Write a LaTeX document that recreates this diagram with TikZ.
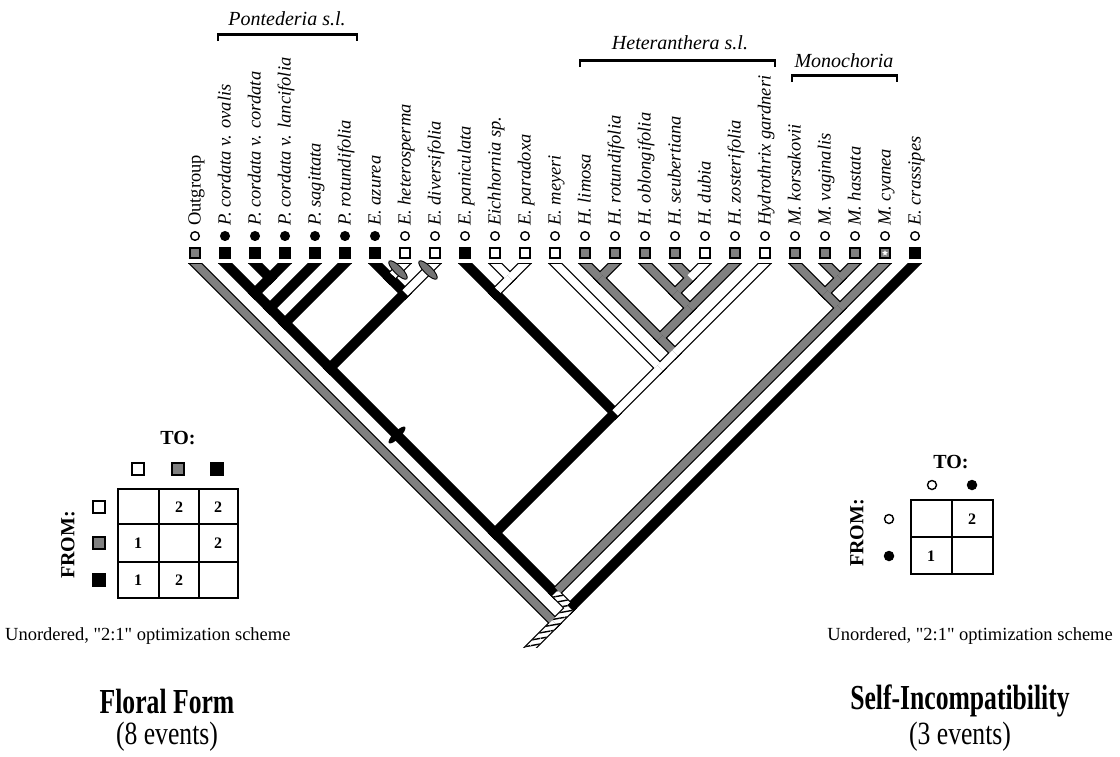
\documentclass[tikz,border=0pt]{standalone}
\usepackage{fontspec}
\setmainfont{Liberation Serif}
\newfontfamily\capfont{Liberation Serif}[Ligatures=TeXOff]
\usetikzlibrary{patterns.meta,shapes.geometric,calc}
\definecolor{stip}{gray}{0.5}
\begin{document}
\begin{tikzpicture}[x=1pt,y=-1pt,
 bord/.style={draw=black,line width=10.2pt,line cap=rect},
 fB/.style={draw=black,line width=7.6pt},
 fG/.style={draw=stip,line width=7.6pt},
 fW/.style={draw=white,line width=7.6pt},
 term/.style={shorten >=3.8pt},
 sqW/.style={rectangle,draw=black,line width=1.2pt,fill=white,minimum size=10pt,inner sep=0pt},
 sqG/.style={sqW,fill=stip},
 sqB/.style={sqW,fill=black},
 ciW/.style={circle,draw=black,line width=1.4pt,fill=white,minimum size=8.6pt,inner sep=0pt},
 ciB/.style={ciW,fill=black},
 lab/.style={rotate=90,anchor=base west,inner sep=0pt,font=\fontsize{18.5}{20}\selectfont\itshape},
 grp/.style={anchor=base,inner sep=0pt,font=\fontsize{20}{22}\selectfont\itshape},
 brk/.style={line width=2.5pt},
 hd/.style={font=\fontsize{20}{22}\selectfont\bfseries,inner sep=0pt},
 num/.style={font=\fontsize{16}{18}\selectfont\bfseries,inner sep=0pt},
 captxt/.style={font=\capfont\fontsize{18.5}{20}\selectfont,inner sep=0pt},
 ttl/.style={font=\fontsize{27}{30}\selectfont\bfseries,inner sep=0pt},
 subt/.style={font=\fontsize{27}{30}\selectfont,inner sep=0pt},
 lsq/.style={rectangle,draw=black,line width=1.2pt,minimum size=12pt,inner sep=0pt},
 evtmark/.style={ellipse,draw=black,line width=0.9pt,fill=black!55,minimum width=25pt,minimum height=8pt,inner sep=0pt,rotate=-45},
 tickmark/.style={ellipse,fill=black,minimum width=23pt,minimum height=7pt,inner sep=0pt,rotate=45},
 hatch/.style={pattern={Lines[angle=10,distance=5.5pt,line width=1.4pt]}}
]
\useasboundingbox (0,0) rectangle (1120,756);
\fill[white] (0,0) rectangle (1120,756);

% ---------- tips ----------
\foreach \i/\s/\c/\t in {
 1/G/W/\textup{Outgroup},
 2/B/B/P. cordata v. ovalis,
 3/B/B/P. cordata v. cordata,
 4/B/B/P. cordata v. lancifolia,
 5/B/B/P. sagittata,
 6/B/B/P. rotundifolia,
 7/B/B/E. azurea,
 8/W/W/E. heterosperma,
 9/W/W/E. diversifolia,
 10/B/W/E. paniculata,
 11/W/W/Eichhornia sp.,
 12/W/W/E. paradoxa,
 13/W/W/E. meyeri,
 14/G/W/H. limosa,
 15/G/W/H. rotundifolia,
 16/G/W/H. oblongifolia,
 17/G/W/H. seubertiana,
 18/W/W/H. dubia,
 19/G/W/H. zosterifolia,
 20/W/W/Hydrothrix gardneri,
 21/G/W/M. korsakovii,
 22/G/W/M. vaginalis,
 23/G/W/M. hastata,
 24/G/W/M. cyanea,
 25/B/W/E. crassipes}{
 \pgfmathsetmacro\xx{195+30*(\i-1)}
 \node[sq\s] (s\i) at (\xx,253) {};
 \node[ci\c] (c\i) at (\xx,236) {};
 \node[lab] (l\i) at (\xx+5.5,226) {\t};
}
\node[star,star points=5,star point ratio=2.2,fill=white,inner sep=0pt,minimum size=6pt] (cyst) at (s24) {};

% ---------- group brackets ----------
\node[grp] (gP) at (287,25) {Pontederia s.l.};
\draw[brk] (218,41) -- (218,34.5) -- (357,34.5) -- (357,41);
\node[grp] (gH) at (680,49) {Heteranthera s.l.};
\draw[brk] (580,67) -- (580,60.5) -- (775,60.5) -- (775,67);
\node[grp] (gM) at (844,67) {Monochoria};
\draw[brk] (792,82) -- (792,75.5) -- (897,75.5) -- (897,82);

% ---------- tree coordinates ----------
\coordinate (b1) at (185,253);  \coordinate (b2) at (215,253);
\coordinate (b3) at (245,253);  \coordinate (b4) at (295,253);
\coordinate (b5) at (325,253);  \coordinate (b6) at (355,253);
\coordinate (b7) at (365,253);  \coordinate (b8) at (415,253);
\coordinate (b9) at (445,253);  \coordinate (b10) at (455,253);
\coordinate (b11) at (485,253); \coordinate (b12) at (535,253);
\coordinate (b13) at (545,253); \coordinate (b14) at (575,253);
\coordinate (b15) at (625,253); \coordinate (b16) at (635,253);
\coordinate (b17) at (665,253); \coordinate (b18) at (715,253);
\coordinate (b19) at (745,253); \coordinate (b20) at (775,253);
\coordinate (b21) at (785,253); \coordinate (b22) at (815,253);
\coordinate (b23) at (865,253); \coordinate (b24) at (895,253);
\coordinate (b25) at (925,253);
\coordinate (n34) at (270,278);
\coordinate (n24) at (255,293);
\coordinate (n25) at (270,308);
\coordinate (n26) at (285,323);
\coordinate (n78) at (390,278);
\coordinate (n79) at (405,293);
\coordinate (n29) at (330,368);
\coordinate (n1112) at (510,278);
\coordinate (n1012) at (495,293);
\coordinate (n1415) at (600,278);
\coordinate (n1718) at (690,278);
\coordinate (n1618) at (675,293);
\coordinate (n1619) at (690,308);
\coordinate (n1419) at (660,338);
\coordinate (n1420) at (675,353);
\coordinate (n1320) at (660,368);
\coordinate (n1020) at (615,413);
\coordinate (n220) at (495,533);
\coordinate (n2223) at (840,278);
\coordinate (n2123) at (825,293);
\coordinate (n2124) at (840,308);
\coordinate (n224) at (555,593);
\coordinate (n225) at (570,608);
\coordinate (root) at (555,623);
\coordinate (rb) at (515,663);

\begin{scope}
\clip (0,263) rectangle (1120,647);
% borders
\foreach \a/\b in {b1/root,b2/n24,b3/n34,b4/n34,n34/n24,n24/n25,b5/n25,n25/n26,b6/n26,n26/n29,
  b7/n78,b8/n78,n78/n79,b9/n79,n79/n29,n29/n220,b10/n1012,b11/n1112,b12/n1112,n1112/n1012,
  n1012/n1020,b13/n1320,b14/n1415,b15/n1415,n1415/n1419,b16/n1618,b17/n1718,b18/n1718,
  n1718/n1618,n1618/n1619,b19/n1619,n1619/n1419,n1419/n1420,b20/n1420,n1420/n1320,
  n1320/n1020,n1020/n220,n220/n224,b21/n2123,b22/n2223,b23/n2223,n2223/n2123,n2123/n2124,
  b24/n2124,n2124/n224,n224/n225,b25/n225,n225/root,root/rb}
  {\draw[bord] (\a) -- (\b);}
% fills
\draw[fG,term] (b1) -- (root);
\draw[fB] (b2) -- (n24);
\draw[fB,term] (b3) -- (n34);
\draw[fB] (b4) -- (n34);
\draw[fB,term] (n34) -- (n24);
\draw[fB] (n24) -- (n25);
\draw[fB,term] (b5) -- (n25);
\draw[fB] (n25) -- (n26);
\draw[fB,term] (b6) -- (n26);
\draw[fB] (n26) -- (n29);
\draw[fB] (b7) -- (n78);
\draw[fW,term] (b8) -- (n78);
\draw[fB,term] (n78) -- (n79);
\draw[fW] (b9) -- (n79);
\draw[fB,term] (n79) -- (n29);
\draw[fB] (n29) -- (n220);
\draw[fB] (b10) -- (n1012);
\draw[fW,term] (b11) -- (n1112);
\draw[fW] (b12) -- (n1112);
\draw[fW,term] (n1112) -- (n1012);
\draw[fB,term] (n1012) -- (n1020);
\draw[fW,term] (b13) -- (n1320);
\draw[fG] (b14) -- (n1415);
\draw[fG,term] (b15) -- (n1415);
\draw[fG] (n1415) -- (n1419);
\draw[fG] (b16) -- (n1618);
\draw[fG,term] (b17) -- (n1718);
\draw[fW] (b18) -- (n1718);
\draw[fG,term] (n1718) -- (n1618);
\draw[fG,term] (n1618) -- (n1619);
\draw[fG] (b19) -- (n1619);
\draw[fG,term] (n1619) -- (n1419);
\draw[fG,term] (n1419) -- (n1420);
\draw[fW] (b20) -- (n1420);
\draw[fW] (n1420) -- (n1320);
\draw[fW] (n1320) -- (n1020);
\draw[fB,term] (n1020) -- (n220);
\draw[fB] (n220) -- (n224);
\draw[fG] (b21) -- (n2123);
\draw[fG,term] (b22) -- (n2223);
\draw[fG] (b23) -- (n2223);
\draw[fG,term] (n2223) -- (n2123);
\draw[fG,term] (n2123) -- (n2124);
\draw[fG] (b24) -- (n2124);
\draw[fG,term] (n2124) -- (n224);
\draw[fW,term] (n224) -- (n225);
\draw[fB] (b25) -- (n225);
\draw[fW] (n225) -- (root);
\draw[fW] (root) -- (rb);
% hatching of the basal branches
\fill[hatch] ($(n224)+(2.687,-2.687)$) -- ($(n225)+(0,-5.374)$) -- ($(n225)+(-5.374,0)$) -- ($(n224)+(-2.687,2.687)$) -- cycle;
\fill[hatch] ($(n225)+(2.687,2.687)$) -- ($(rb)+(2.687,2.687)$) -- ($(rb)+(-2.687,-2.687)$) -- ($(n225)+(-2.687,-2.687)$) -- cycle;
% top edges of the branches
\foreach \i in {1,...,25}{\draw[line width=1.2pt] ($(s\i)+(-7,10.6)$) -- ($(s\i)+(7,10.6)$);}
\end{scope}

% character-change marks
\node[evtmark] (m8) at (398,270) {};
\node[evtmark] (m9) at (428,270) {};
\node[tickmark] (tk) at (397,435) {};

% ---------- left legend ----------
\node[hd] (to1) at (178,438) {TO:};
\node[lsq,fill=white] (tw1) at (138,469) {};
\node[lsq,fill=stip] (tg1) at (178,469) {};
\node[lsq,fill=black] (tb1) at (217,469) {};
\draw[line width=1.8pt] (118,489) rectangle (238,598);
\draw[line width=1.3pt] (159,489) -- (159,598) (199,489) -- (199,598) (118,524) -- (238,524) (118,562) -- (238,562);
\node[num] (e12) at (179,507) {2};
\node[num] (e13) at (218,507) {2};
\node[num] (e21) at (138,543) {1};
\node[num] (e23) at (218,543) {2};
\node[num] (e31) at (138,580) {1};
\node[num] (e32) at (179,580) {2};
\node[lsq,fill=white] (fw1) at (99,507) {};
\node[lsq,fill=stip] (fg1) at (99,543) {};
\node[lsq,fill=black] (fb1) at (99,580) {};
\node[hd,rotate=90] (from1) at (68,545) {FROM:};
\node[captxt,anchor=base west] (cap1) at (5,640) {Unordered, "2:1" optimization scheme};
\node[ttl] (t1) at (167,701) {\scalebox{0.95}[1.3]{Floral Form}};
\node[subt] (st1) at (167,737) {\scalebox{0.95}[1.2]{(8 events)}};

% ---------- right legend ----------
\node[hd] (to2) at (951,462) {TO:};
\node[ciW,minimum size=9pt] (tw2) at (932,485) {};
\node[ciB,minimum size=9pt] (tb2) at (972,485) {};
\draw[line width=1.8pt] (911,500) rectangle (993,574);
\draw[line width=1.3pt] (952,500) -- (952,574) (911,537) -- (993,537);
\node[num] (r12) at (972,519) {2};
\node[num] (r21) at (931,556) {1};
\node[ciW,minimum size=9pt] (fw2) at (889,519) {};
\node[ciB,minimum size=9pt] (fb2) at (889,556) {};
\node[hd,rotate=90] (from2) at (857,533) {FROM:};
\node[captxt,anchor=base east] (cap2) at (1113,640) {Unordered, "2:1" optimization scheme};
\node[ttl] (t2) at (960,701) {\scalebox{0.95}[1.3]{Self-Incompatibility}};
\node[subt] (st2) at (960,737) {\scalebox{0.95}[1.2]{(3 events)}};
\end{tikzpicture}
\end{document}
